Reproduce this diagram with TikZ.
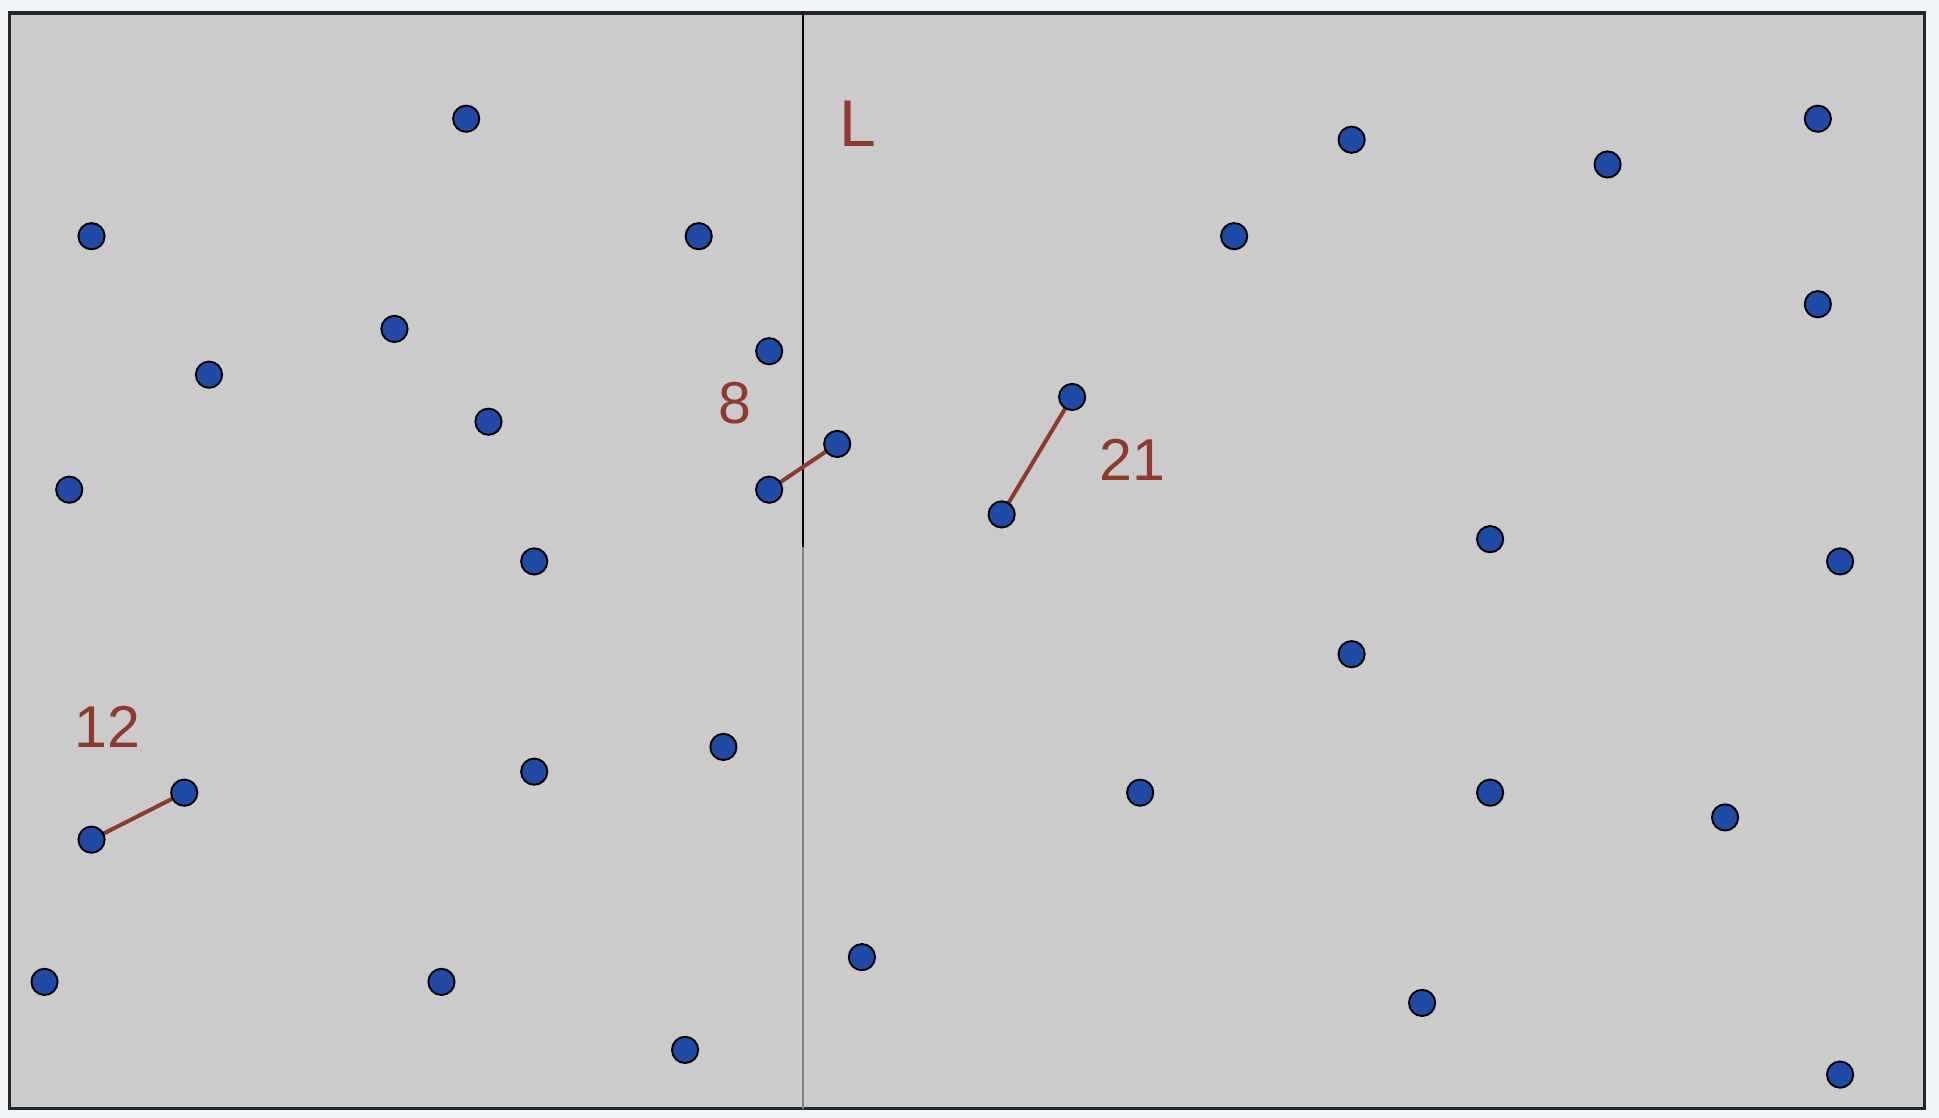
\documentclass[tikz,border=0pt]{standalone}
\usepackage{fontspec}
\setmainfont{Liberation Sans}
\definecolor{outerbg}{HTML}{F3F6F9}
\definecolor{panel}{HTML}{CBCBCB}
\definecolor{dotblue}{HTML}{1F4BA6}
\definecolor{edgered}{HTML}{8E3A2C}
\pgfdeclarelayer{bg}
\pgfdeclarelayer{mid}
\pgfsetlayers{bg,mid,main}
\tikzset{
  pt/.style={circle, fill=dotblue, draw=black, line width=2.2pt, minimum size=1.06cm, inner sep=0pt},
  seg/.style={draw=edgered, line width=4.6pt},
  lbl/.style={text=edgered, font=\fontsize{68}{68}\selectfont, inner sep=0pt},
}
\begin{document}
\begin{tikzpicture}[x=0.05cm, y=-0.05cm]
\begin{pgfonlayer}{bg}
\fill[outerbg] (0,0) rectangle (1568,904);
\draw[fill=panel, draw=black!85, line width=3.6pt] (8,10.5) rectangle (1556.5,896.5);
\draw[black, line width=2.4pt] (649.5,10.5) coordinate (ltop) -- (649.5,442) coordinate (lmid);
\draw[black!50, line width=2.6pt] (lmid) -- (649.5,896.5) coordinate (lbot);
\end{pgfonlayer}
\useasboundingbox (0,0) rectangle (1568,904);
% left points
\node[pt] (p1) at (377,96) {};
\node[pt] (p2) at (74,191) {};
\node[pt] (p3) at (565,191) {};
\node[pt] (p4) at (319,266) {};
\node[pt] (p5) at (622,284) {};
\node[pt] (p6) at (169,303) {};
\node[pt] (p7) at (395,341) {};
\node[pt] (p8) at (56,396) {};
\node[pt] (p9) at (622,396) {};
\node[pt] (p10) at (432,454) {};
\node[pt] (p11) at (432,624) {};
\node[pt] (p12) at (585,604) {};
\node[pt] (p13) at (149,641) {};
\node[pt] (p14) at (74,679) {};
\node[pt] (p15) at (36,794) {};
\node[pt] (p16) at (357,794) {};
\node[pt] (p17) at (554,849) {};
% right points
\node[pt] (q1) at (677,359) {};
\node[pt] (q2) at (1093,113) {};
\node[pt] (q3) at (1300,133) {};
\node[pt] (q4) at (1470,96) {};
\node[pt] (q5) at (998,191) {};
\node[pt] (q6) at (1470,246) {};
\node[pt] (q7) at (867,321) {};
\node[pt] (q8) at (810,416) {};
\node[pt] (q9) at (1205,436) {};
\node[pt] (q10) at (1488,454) {};
\node[pt] (q11) at (1093,529) {};
\node[pt] (q12) at (922,641) {};
\node[pt] (q13) at (1205,641) {};
\node[pt] (q14) at (1395,661) {};
\node[pt] (q15) at (697,774) {};
\node[pt] (q16) at (1150,811) {};
\node[pt] (q17) at (1488,869) {};
% edges
\begin{pgfonlayer}{mid}
\draw[seg] (p9.center) -- (q1.center);
\draw[seg] (q8.center) -- (q7.center);
\draw[seg] (p14.center) -- (p13.center);
\end{pgfonlayer}
% labels
\node[lbl, font=\fontsize{76}{76}\selectfont] (labL) at (694,100) {L};
\node[lbl] (lab8) at (594,326) {8};
\node[lbl] (lab21) at (916,372) {21};
\node[lbl] (lab12) at (87,588) {12};
\end{tikzpicture}
\end{document}
